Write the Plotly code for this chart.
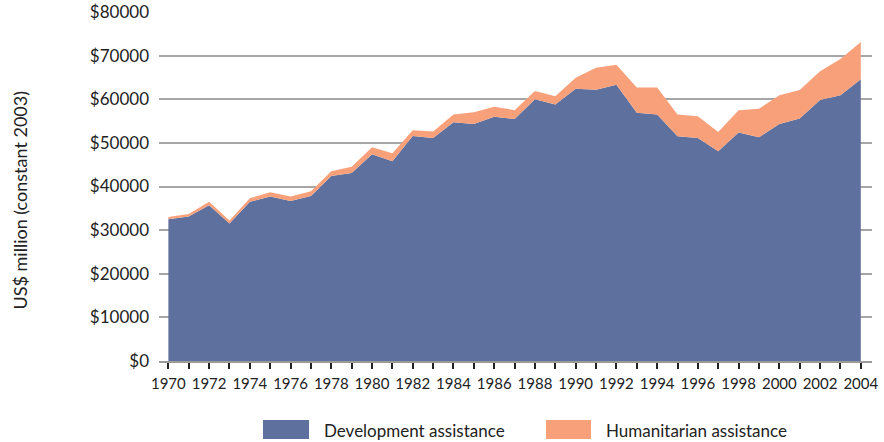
import plotly.graph_objects as go

years = list(range(1970, 2005))
development = [32500, 33100, 35700, 31500, 36500, 37700, 36700, 37800, 42400, 43100,
               47400, 45800, 51600, 51100, 54700, 54300, 56000, 55500, 60000, 58800,
               62400, 62200, 63300, 56900, 56500, 51500, 51100, 48100, 52400, 51300,
               54300, 55600, 59800, 60900, 64600]
total = [33000, 33700, 36500, 32200, 37300, 38700, 37700, 38900, 43500, 44500,
         49000, 47600, 52900, 52600, 56500, 57000, 58300, 57500, 61900, 60700,
         64900, 67200, 67900, 62700, 62700, 56500, 56100, 52500, 57500, 57800,
         60900, 62100, 66400, 69200, 73100]
humanitarian = [t - d for t, d in zip(total, development)]

dev_color = "#5E709E"
hum_color = "#F7A07A"
font_family = "Lato, 'Open Sans', sans-serif"

fig = go.Figure()
fig.add_trace(go.Scatter(x=years, y=development, mode="lines", stackgroup="one",
                         line=dict(width=0, color=dev_color), fillcolor=dev_color,
                         name="Development assistance"))
fig.add_trace(go.Scatter(x=years, y=humanitarian, mode="lines", stackgroup="one",
                         line=dict(width=0, color=hum_color), fillcolor=hum_color,
                         name="Humanitarian assistance"))

fig.update_layout(
    width=884, height=442,
    margin=dict(l=159, r=12, t=12, b=81, autoexpand=False),
    paper_bgcolor="white", plot_bgcolor="white",
    showlegend=False,
    font=dict(family=font_family, color="#222222"),
)
fig.update_yaxes(
    range=[0, 80000], dtick=10000, tickprefix="$", tickformat="d",
    showgrid=True, gridcolor="#A6A6A6", gridwidth=2,
    zeroline=False, showline=False, ticks="", automargin=False,
    tickfont=dict(size=17), ticklabelstandoff=9,
)
fig.update_xaxes(
    range=[1969.54, 2004.55], automargin=False,
    tickvals=list(range(1970, 2005, 2)),
    ticktext=[str(y) for y in range(1970, 2005, 2)],
    ticks="outside", ticklen=6, tickwidth=2, tickcolor="#222222",
    minor=dict(dtick=1, tick0=1970, ticks="outside", ticklen=6, tickwidth=2, tickcolor="#222222", showgrid=False),
    showline=True, linecolor="#9A9A9A", linewidth=2,
    showgrid=False, zeroline=False,
    tickfont=dict(size=15), ticklabelstandoff=2,
)

# y-axis title
fig.add_annotation(xref="paper", yref="paper", x=(20-159)/713, y=(361.5-201)/349,
                   text="US$ million (constant 2003)", textangle=-90, showarrow=False,
                   xanchor="center", yanchor="middle", font=dict(size=18))

# legend drawn as layout shapes/annotations
fig.add_shape(type="rect", xref="paper", yref="paper",
              x0=(263-159)/713, x1=(309-159)/713, y0=-(439-361)/349, y1=-(420-361)/349,
              fillcolor=dev_color, line=dict(width=0))
fig.add_shape(type="rect", xref="paper", yref="paper",
              x0=(546-159)/713, x1=(591-159)/713, y0=-(439-361)/349, y1=-(420-361)/349,
              fillcolor=hum_color, line=dict(width=0))
fig.add_annotation(xref="paper", yref="paper", x=(322-159)/713, y=-(430-361)/349,
                   text="Development assistance", showarrow=False, xanchor="left",
                   yanchor="middle", font=dict(size=17))
fig.add_annotation(xref="paper", yref="paper", x=(604-159)/713, y=-(430-361)/349,
                   text="Humanitarian assistance", showarrow=False, xanchor="left",
                   yanchor="middle", font=dict(size=17))

fig.write_html("out.html", config={"displayModeBar": False},
               post_script="document.body.style.margin='0px';document.body.style.overflow='hidden';")
